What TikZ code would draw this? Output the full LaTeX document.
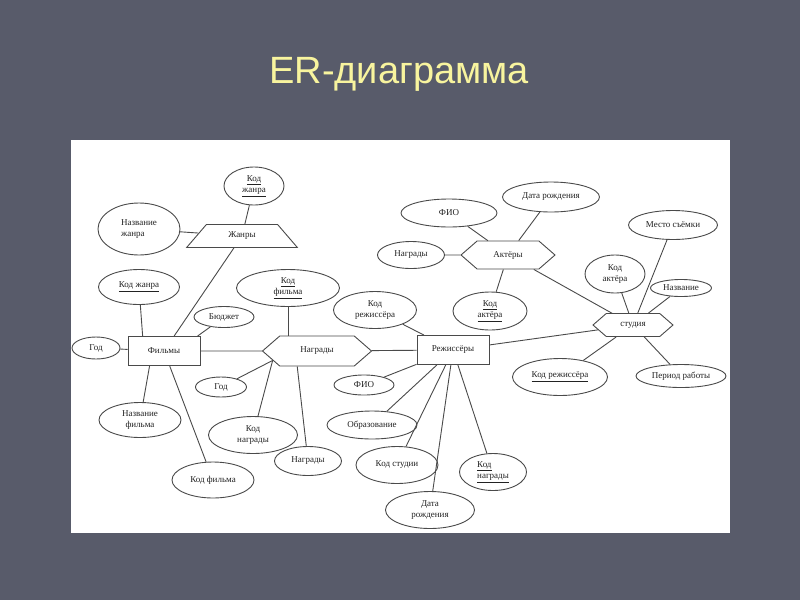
\documentclass[tikz,border=0pt]{standalone}
\usepackage{fontspec}
\setmainfont{Liberation Serif}
\newfontfamily\titlefont{Liberation Sans}
\usetikzlibrary{shapes.geometric, shapes.symbols}
\definecolor{cbg}{HTML}{585B6A}
\definecolor{ctitle}{HTML}{F8F49E}
\definecolor{cline}{HTML}{4A4A4A}
\definecolor{ctext}{HTML}{222222}
\tikzset{
  every picture/.style={font=\fontsize{9}{11.5}\selectfont, line width=0.9pt},
  entity/.style={draw=cline, rectangle, text=ctext, minimum width=72pt, minimum height=29pt, inner sep=0pt},
  relation/.style={draw=cline, signal, signal to=west and east, signal pointer angle=82, text=ctext, inner sep=0pt},
  attr/.style={draw=cline, ellipse, text=ctext, align=center, inner sep=0pt},
  link/.style={draw=cline, line width=0.9pt},
  title/.style={font=\titlefont\fontsize{38}{40}\selectfont, text=ctitle},
}

\begin{document}
\begin{tikzpicture}[x=1pt, y=-1pt]
  \useasboundingbox (0,0) rectangle (800,600);
  \fill[cbg] (0,0) rectangle (800,600);
  \fill[white] (71,140) rectangle (730,533);
  \node[title, anchor=base] (title) at (399,83) {ER-диаграмма};

  % entities and relations
  \node[entity] (films) at (164,351) {Фильмы};
  \node[entity] (directors) at (453,350) {Режиссёры};
  \node[draw=cline, trapezium, trapezium left angle=46, trapezium right angle=46, trapezium stretches=true,
        minimum width=111pt, minimum height=23pt, inner sep=0pt, text=ctext] (genres) at (242,236) {Жанры};
  \node[relation, minimum width=109pt, minimum height=30pt] (awards) at (317,351) {Награды};
  \node[relation, minimum width=94pt, minimum height=28pt] (actors) at (508,255) {Актёры};
  \node[relation, minimum width=80pt, minimum height=23pt] (studio) at (633,325) {студия};

  % attributes of genres and films
  \node[attr, minimum width=60pt, minimum height=38pt] (gid1) at (254,186) {\underline{Код}\\\underline{жанра}};
  \node[attr, align=left, minimum width=82pt, minimum height=52pt] (gname) at (139,229) {Название\\жанра};
  \node[attr, minimum width=81pt, minimum height=35pt] (gid2) at (139,287) {\underline{Код жанра}};
  \node[attr, minimum width=60pt, minimum height=21pt] (budget) at (224,317) {Бюджет};
  \node[attr, minimum width=48pt, minimum height=22pt] (year1) at (96,348) {Год};
  \node[attr, minimum width=82pt, minimum height=35pt] (fname) at (140,420) {Название\\фильма};
  \node[attr, minimum width=82pt, minimum height=36pt] (fid2) at (213,480) {Код фильма};

  % attributes of awards
  \node[attr, minimum width=103pt, minimum height=37pt] (fid1) at (288,288) {\underline{Код}\\\underline{фильма}};
  \node[attr, minimum width=51pt, minimum height=20pt] (year2) at (221,387) {Год};
  \node[attr, minimum width=89pt, minimum height=37pt] (aid) at (253,435) {Код\\награды};
  \node[attr, minimum width=67pt, minimum height=29pt] (aname) at (308,461) {Награды};

  % attributes of directors
  \node[attr, minimum width=83pt, minimum height=37pt] (did) at (375,310) {Код\\режиссёра};
  \node[attr, minimum width=60pt, minimum height=20pt] (dfio) at (364,385) {ФИО};
  \node[attr, minimum width=90pt, minimum height=28pt] (dedu) at (372,425) {Образование};
  \node[attr, minimum width=82pt, minimum height=37pt] (dstudio) at (397,465) {Код студии};
  \node[attr, minimum width=89pt, minimum height=37pt] (dbirth) at (430,510) {Дата\\рождения};
  \node[attr, align=left, minimum width=67pt, minimum height=37pt] (daward) at (493,472) {\underline{Код}\\\underline{награды}};

  % attributes of actors
  \node[attr, minimum width=96pt, minimum height=28pt] (afio) at (449,213) {ФИО};
  \node[attr, minimum width=97pt, minimum height=30pt] (abirth) at (551,197) {Дата рождения};
  \node[attr, minimum width=67pt, minimum height=27pt] (aawards) at (411,255) {Награды};
  \node[attr, minimum width=74pt, minimum height=38pt] (aid2) at (490,311) {\underline{Код}\\\underline{актёра}};

  % attributes of studio
  \node[attr, minimum width=89pt, minimum height=29pt] (splace) at (673,225) {Место съёмки};
  \node[attr, minimum width=60pt, minimum height=38pt] (sactor) at (615,274) {Код\\актёра};
  \node[attr, minimum width=61pt, minimum height=17pt] (sname) at (681,288) {Название};
  \node[attr, minimum width=95pt, minimum height=37pt] (sdir) at (560,377) {\underline{Код режиссёра}};
  \node[attr, minimum width=90pt, minimum height=23pt] (speriod) at (681,376) {Период работы};

  % links
  \draw[link] (gid1) -- (genres);
  \draw[link] (gname) -- (genres);
  \draw[link] (genres) -- (films);
  \draw[link] (gid2) -- (films.145);
  \draw[link] (budget) -- (films.24);
  \draw[link] (year1) -- (films);
  \draw[link] (fname) -- (films.-134);
  \draw[link] (fid2) -- (films);
  \draw[link] (films) -- (awards);
  \draw[link] (fid1.south) -- (fid1.south |- awards.north);
  \draw[link] (year2) -- (awards.-168);
  \draw[link] (aid) -- (awards.-168);
  \draw[link] (aname) -- (awards.-142);
  \draw[link] (awards) -- (directors);
  \draw[link] (did) -- (directors);
  \draw[link] (dfio) -- (directors);
  \draw[link] (dedu) -- (directors);
  \draw[link] (dstudio) -- (directors);
  \draw[link] (dbirth) -- (directors);
  \draw[link] (daward) -- (directors);
  \draw[link] (directors) -- (studio);
  \draw[link] (afio) -- (actors);
  \draw[link] (abirth) -- (actors);
  \draw[link] (aawards) -- (actors);
  \draw[link] (aid2) -- (actors);
  \draw[link] (actors) -- (studio);
  \draw[link] (sactor) -- (studio);
  \draw[link] (splace) -- (studio);
  \draw[link] (sname) -- (studio);
  \draw[link] (sdir) -- (studio);
  \draw[link] (speriod) -- (studio);
\end{tikzpicture}
\end{document}
